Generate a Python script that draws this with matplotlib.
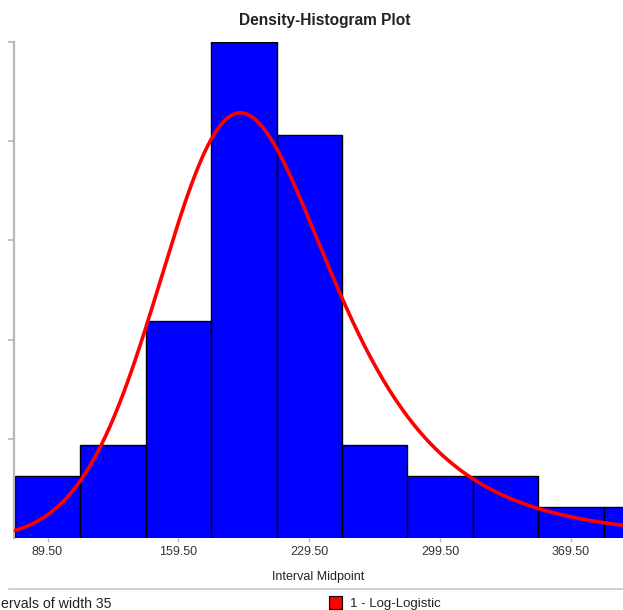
"""Density-histogram with fitted log-logistic curve."""
import numpy as np
import matplotlib
matplotlib.use("Agg")
import matplotlib.pyplot as plt

# interval midpoints (width 35) and counts per interval
midpoints = [89.5, 124.5, 159.5, 194.5, 229.5, 264.5, 299.5, 334.5, 369.5, 404.5]
counts = [2, 3, 7, 16, 13, 3, 2, 2, 1, 1]
width = 35
xtick_vals = [89.5, 159.5, 229.5, 299.5, 369.5]
xtick_labels = ["89.50", "159.50", "229.50", "299.50", "369.50"]

# fitted log-logistic (scale alpha, shape beta)
ll_alpha = 203.0
ll_beta = 6.2

_BLUE, _RED, _GREY = "#0000ff", "#ff0000", "#b8b8b0"

plt.rcParams["font.family"] = ["Liberation Sans", "DejaVu Sans"]

n = sum(counts)
dens = np.array(counts) / (n * width)
ymax = dens.max()

fig = plt.figure(figsize=(6.23, 6.10), dpi=100)
ax = fig.add_axes([0.0217, 0.118, 0.9783, 0.813])

ax.bar(midpoints, dens, width=width, color=_BLUE, edgecolor="black", lw=1.0,
       align="center", zorder=2)

xs = np.linspace(71.3, 397.3, 400)
t = xs / ll_alpha
pdf = (ll_beta / ll_alpha) * t ** (ll_beta - 1) / (1 + t ** ll_beta) ** 2
ax.plot(xs, pdf, color=_RED, lw=2.6, zorder=3, solid_capstyle="round")

ax.set_xlim(71.3, 397.3)
ax.set_ylim(0, ymax)
ax.set_yticks(ymax * np.array([0.2, 0.4, 0.6, 0.8, 1.0]))
ax.set_yticklabels([])
ax.set_xticks(xtick_vals)
ax.set_xticklabels(xtick_labels, fontsize=9, color="#333333")
ax.tick_params(axis="y", length=4, color=_GREY, width=1.2)
ax.tick_params(axis="x", length=3, color=_GREY, width=1.0, pad=3)
for s in ("top", "right", "bottom"):
    ax.spines[s].set_visible(False)
ax.spines["left"].set_color(_GREY)
ax.spines["left"].set_linewidth(1.6)

ax.set_xlabel("Interval Midpoint", fontsize=9, color="#222222", labelpad=9)
fig.text(0.521, 0.967, "Density-Histogram Plot", ha="center", va="center",
         fontsize=11.2, fontweight="bold", color="#222222")

# legend strip below the plot (left caption is cropped in the source)
fig.add_artist(plt.Line2D([0.015, 1.0], [1 - 589 / 610] * 2, color="#c8c8c0", lw=1.2))
fig.text(1 / 623, 1 - 604 / 610, "ervals of width 35", ha="left", va="center",
         fontsize=10.2, color="#222222")
fig.add_artist(plt.Rectangle((329 / 623, 1 - 609 / 610), 13 / 623, 13 / 610,
                             facecolor=_RED, edgecolor="black", lw=0.8))
fig.text(350 / 623, 1 - 604 / 610, "1 - Log-Logistic", ha="left", va="center",
         fontsize=9.5, color="#222222")

fig.savefig("out.png", dpi=100)
